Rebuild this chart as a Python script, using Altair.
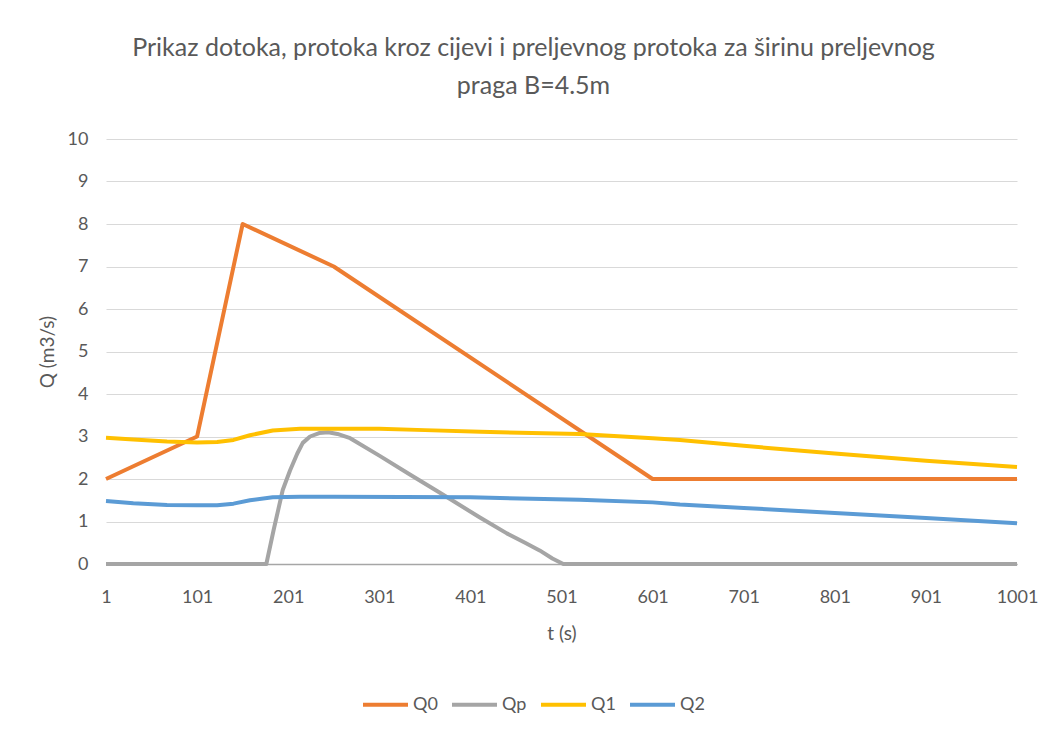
import altair as alt
import pandas as pd

# ---- data ----
series_names = ["Q0", "Qp", "Q1", "Q2"]
series_colors = ["#ED7D31", "#A5A5A5", "#FFC000", "#5B9BD5"]

q0_t = [1, 101, 151, 251, 601, 1001]
q0_v = [2.0, 3.0, 8.0, 7.0, 2.0, 2.0]

qp_t = [1, 177, 185, 195, 203, 211, 217, 225, 235, 245, 255, 269, 301, 335, 368,
        411, 441, 461, 477, 491, 503, 1001]
qp_v = [0.0, 0.0, 0.8, 1.74, 2.2, 2.6, 2.85, 3.0, 3.08, 3.1, 3.06, 2.96, 2.55, 2.1,
        1.67, 1.1, 0.72, 0.5, 0.32, 0.13, 0.0, 0.0]

q1_t = [1, 31, 68, 101, 123, 141, 159, 184, 214, 251, 301, 351, 412, 521, 601, 631,
        701, 801, 901, 1001]
q1_v = [2.97, 2.93, 2.88, 2.86, 2.87, 2.92, 3.03, 3.14, 3.18, 3.18, 3.18, 3.15, 3.11,
        3.06, 2.96, 2.92, 2.78, 2.6, 2.43, 2.28]

q2_t = [1, 31, 68, 101, 123, 141, 159, 184, 214, 251, 401, 521, 601, 631, 701, 801,
        901, 1001]
q2_v = [1.48, 1.43, 1.39, 1.38, 1.38, 1.42, 1.5, 1.57, 1.58, 1.58, 1.57, 1.51, 1.45,
        1.40, 1.32, 1.2, 1.08, 0.96]

x_ticks = [1, 101, 201, 301, 401, 501, 601, 701, 801, 901, 1001]
y_ticks = [0, 1, 2, 3, 4, 5, 6, 7, 8, 9, 10]

title_lines = ["Prikaz dotoka, protoka kroz cijevi i preljevnog protoka za širinu preljevnog",
               "praga B=4.5m"]

rows = []
for name, ts, vs in [("Q0", q0_t, q0_v), ("Qp", qp_t, qp_v), ("Q1", q1_t, q1_v), ("Q2", q2_t, q2_v)]:
    for t, v in zip(ts, vs):
        rows.append({"t": t, "Q": v, "series": name})
df = pd.DataFrame(rows)

FONT = "Lato"
GRAY = "#595959"

lines = alt.Chart(df).mark_line(strokeWidth=4, strokeJoin="round").encode(
    x=alt.X("t:Q",
            scale=alt.Scale(domain=[1, 1001], nice=False, zero=False),
            axis=alt.Axis(values=x_ticks, format="d", title="t (s)", grid=False, ticks=False,
                          domain=True, domainColor="#a6a6a6", domainWidth=1.5,
                          labelPadding=24, labelFontSize=18, labelColor=GRAY,
                          labelFont=FONT, labelFlush=False,
                          titleFontSize=19, titleFont=FONT, titleColor=GRAY,
                          titleFontWeight="normal", titlePadding=18)),
    y=alt.Y("Q:Q",
            scale=alt.Scale(domain=[0, 10], nice=False),
            axis=alt.Axis(values=y_ticks, title="Q (m3/s)", grid=True, gridColor="#d9d9d9",
                          gridWidth=1.2, domain=False, ticks=False,
                          labelPadding=18, labelFontSize=18, labelColor=GRAY, labelFont=FONT,
                          titleFontSize=19, titleFont=FONT, titleColor=GRAY,
                          titleFontWeight="normal", titlePadding=10)),
    color=alt.Color("series:N",
                    scale=alt.Scale(domain=series_names, range=series_colors),
                    sort=series_names,
                    legend=alt.Legend(title=None, orient="none", direction="horizontal",
                                      legendX=255, legendY=541,
                                      symbolType="stroke", symbolSize=2025,
                                      symbolStrokeWidth=4, labelFontSize=18,
                                      labelFont=FONT, labelColor=GRAY, labelOffset=3,
                                      columnPadding=6)),
).properties(
    width=911, height=425,
    title=alt.TitleParams(text=title_lines, fontSize=25, font=FONT, color=GRAY,
                          fontWeight="normal", lineHeight=38, anchor="middle",
                          frame="group", dx=-28, offset=31),
    autosize=alt.AutoSizeParams(type="none"),
    padding={"left": 98, "top": 131, "right": 25, "bottom": 163},
    background="white",
)

chart = lines.configure_view(stroke=None)

chart.save("out.html", embed_options={"renderer": "svg", "actions": False})
